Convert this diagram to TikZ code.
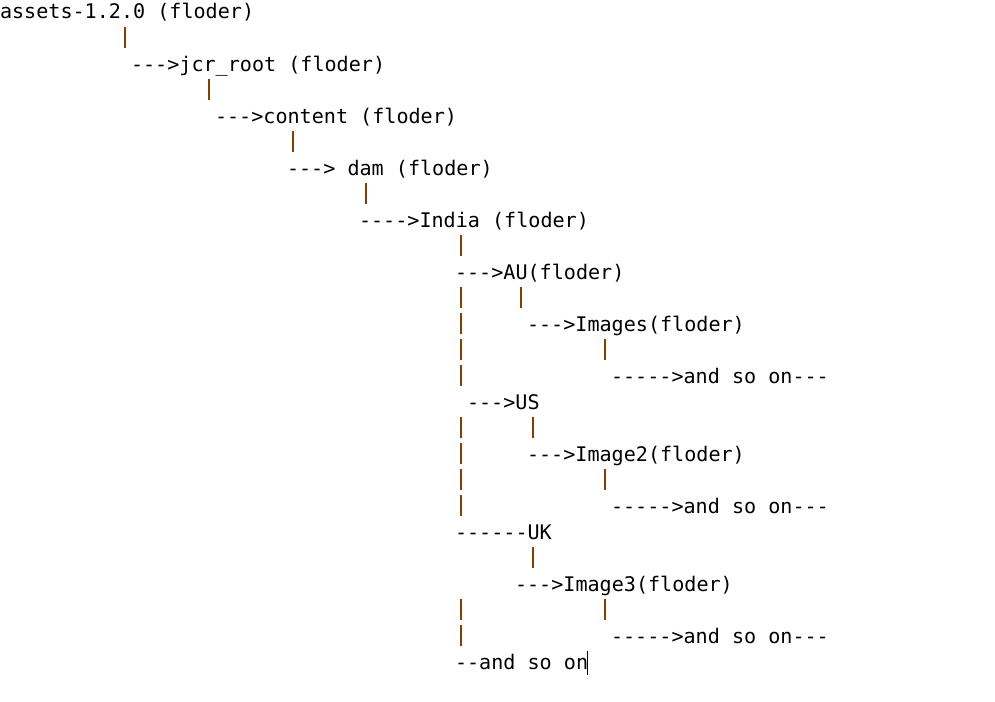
\documentclass[tikz,border=0pt]{standalone}
\usepackage{fontspec}
\setmonofont{DejaVu Sans Mono}
\definecolor{pipebrown}{RGB}{128,64,0}
\tikzset{
  txt/.style={anchor=base west,inner sep=0pt,outer sep=0pt,font=\ttfamily\fontsize{20.1}{22}\selectfont,text=black},
  pipe/.style={draw=pipebrown,line width=1.8pt},
  cursor/.style={draw=black,line width=0.9pt}
}
\newcommand{\pipeat}[2]{\draw[pipe] (#1,{12+26*#2-11}) -- (#1,{12+26*#2+10});}
\begin{document}
\begin{tikzpicture}[x=1pt,y=-1pt]
\useasboundingbox[fill=white] (0,0) rectangle (995,701);
\node[txt] (assets) at (0,19) {assets-1.2.0 (floder)};
\pipeat{125}{1}
\node[txt] (jcr) at (131,71) {--->jcr\_root (floder)};
\pipeat{209}{3}
\node[txt] (content) at (215,123) {--->content (floder)};
\pipeat{293}{5}
\node[txt] (dam) at (287,175) {---> dam (floder)};
\pipeat{366}{7}
\node[txt] (india) at (359,227) {---->India (floder)};
\pipeat{461}{9}
\node[txt] (au) at (455,279) {--->AU(floder)};
\pipeat{461}{11}\pipeat{521}{11}
\pipeat{461}{12}
\node[txt] (images) at (527,331) {--->Images(floder)};
\pipeat{461}{13}\pipeat{605}{13}
\pipeat{461}{14}
\node[txt] (so1) at (611,383) {----->and so on---};
\node[txt] (us) at (467,409) {--->US};
\pipeat{461}{16}\pipeat{533}{16}
\pipeat{461}{17}
\node[txt] (image2) at (527,461) {--->Image2(floder)};
\pipeat{461}{18}\pipeat{605}{18}
\pipeat{461}{19}
\node[txt] (so2) at (611,513) {----->and so on---};
\node[txt] (uk) at (455,539) {------UK};
\pipeat{533}{21}
\node[txt] (image3) at (515,591) {--->Image3(floder)};
\pipeat{461}{23}\pipeat{605}{23}
\pipeat{461}{24}
\node[txt] (so3) at (611,643) {----->and so on---};
\node[txt] (so4) at (455,669) {--and so on};
\coordinate (curtop) at (587,651);
\coordinate (curbot) at (587,675);
\draw[cursor] (curtop) -- (curbot);
\end{tikzpicture}
\end{document}
